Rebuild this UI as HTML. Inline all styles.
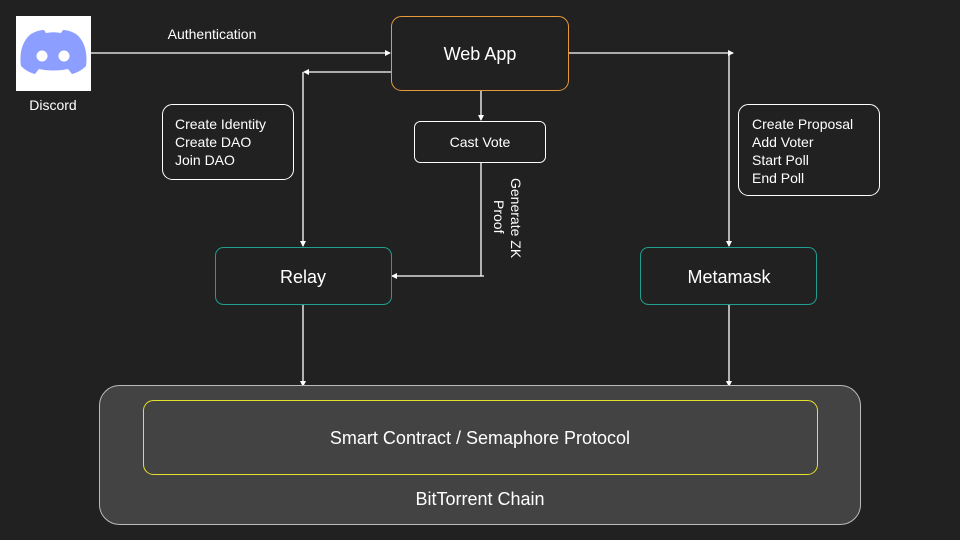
<!DOCTYPE html>
<html><head><style>
body{margin:0;background:#212121;}
svg{display:block;font-family:"Liberation Sans",Arial,sans-serif;}
</style></head><body>
<svg width="960" height="540" viewBox="0 0 960 540">
<defs><marker id="a" markerWidth="6" markerHeight="6" refX="5" refY="3" orient="auto" markerUnits="userSpaceOnUse"><path d="M0,0 L6,3 L0,6 z" fill="#fff"/></marker></defs>
<rect width="960" height="540" fill="#212121"/>
<!-- discord -->
<rect x="16" y="16" width="75" height="75" fill="#fff"/>
<path d="M21,66 C19,52 23,40 31,34 C36,31 41,30 44,30 L46,33 C51,32 56,32 61,33 L63,30 C66,30 71,31 76,34 C84,40 88,52 86,66 C81,71 76,73 72,74 L68,69 C60,71 47,71 39,69 L35,74 C31,73 26,71 21,66 Z" fill="#8c9eff"/>
<circle cx="42" cy="56" r="5.5" fill="#fff"/><circle cx="64" cy="56" r="5.5" fill="#fff"/>
<text x="53" y="110" fill="#fff" font-size="14" text-anchor="middle">Discord</text>
<text x="212" y="39" fill="#fff" font-size="14" text-anchor="middle">Authentication</text>
<g stroke="#fff" stroke-width="1.3" fill="none">
<line x1="91" y1="53" x2="390" y2="53" marker-end="url(#a)"/>
<line x1="569" y1="53" x2="733" y2="53" marker-end="url(#a)"/>
<line x1="729" y1="53" x2="729" y2="246" marker-end="url(#a)"/>
<line x1="391" y1="72" x2="304" y2="72" marker-end="url(#a)"/>
<line x1="303" y1="72" x2="303" y2="246" marker-end="url(#a)"/>
<line x1="481" y1="91" x2="481" y2="120" marker-end="url(#a)"/>
<line x1="481" y1="162" x2="481" y2="276"/>
<line x1="484" y1="276" x2="392" y2="276" marker-end="url(#a)"/>
<line x1="303" y1="305" x2="303" y2="386" marker-end="url(#a)"/>
<line x1="729" y1="305" x2="729" y2="386" marker-end="url(#a)"/>
</g>
<rect x="391.5" y="16.5" width="177" height="74" rx="10" fill="#212121" stroke="#e69a3a"/>
<text x="480" y="60" fill="#fff" font-size="18" text-anchor="middle">Web App</text>
<rect x="414.5" y="121.5" width="131" height="41" rx="6" fill="#212121" stroke="#fff"/>
<text x="480" y="147" fill="#fff" font-size="14" text-anchor="middle">Cast Vote</text>
<rect x="162.5" y="104.5" width="131" height="75" rx="10" fill="none" stroke="#fff"/>
<text fill="#fff" font-size="14"><tspan x="175" y="129">Create Identity</tspan><tspan x="175" y="147">Create DAO</tspan><tspan x="175" y="165">Join DAO</tspan></text>
<rect x="738.5" y="104.5" width="141" height="91" rx="10" fill="none" stroke="#fff"/>
<text fill="#fff" font-size="14"><tspan x="752" y="129">Create Proposal</tspan><tspan x="752" y="147">Add Voter</tspan><tspan x="752" y="165">Start Poll</tspan><tspan x="752" y="183">End Poll</tspan></text>
<text transform="translate(511,178) rotate(90)" fill="#fff" font-size="14">Generate ZK</text>
<text transform="translate(494,200) rotate(90)" fill="#fff" font-size="14">Proof</text>
<rect x="215.5" y="247.5" width="176" height="57" rx="8" fill="#212121" stroke="#1f9e8e"/>
<text x="303" y="283" fill="#fff" font-size="18" text-anchor="middle">Relay</text>
<rect x="640.5" y="247.5" width="176" height="57" rx="8" fill="#212121" stroke="#1f9e8e"/>
<text x="729" y="283" fill="#fff" font-size="18" text-anchor="middle">Metamask</text>
<rect x="99.5" y="385.5" width="761" height="139" rx="20" fill="#434343" stroke="#bbb"/>
<rect x="143.5" y="400.5" width="674" height="74" rx="10" fill="none" stroke="#e5e02a"/>
<text x="480" y="444" fill="#fff" font-size="18" text-anchor="middle">Smart Contract / Semaphore Protocol</text>
<text x="480" y="505" fill="#fff" font-size="18" text-anchor="middle">BitTorrent Chain</text>
</svg>
</body></html>
